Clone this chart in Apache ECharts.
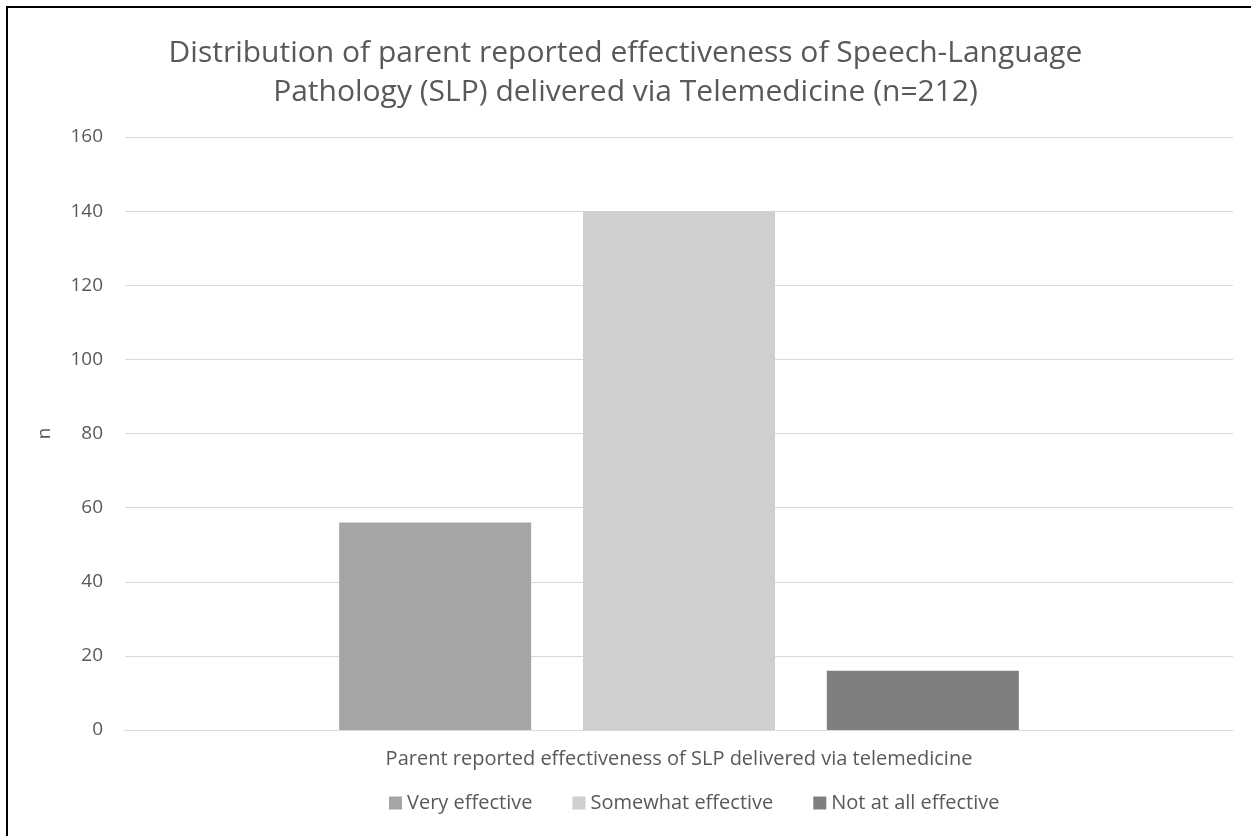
<!DOCTYPE html>
<html><head><meta charset="utf-8">
<script src="https://cdn.jsdelivr.net/npm/echarts@6/dist/echarts.min.js"></script>
<style>html,body{margin:0;padding:0;background:#fff;}#c{width:1251px;height:836px;}</style>
</head><body><div id="c"></div>
<script>
const titleText = 'Distribution of parent reported effectiveness of Speech-Language\nPathology (SLP) delivered via Telemedicine (n=212)';
const categories = [''];
const xAxisTitle = 'Parent reported effectiveness of SLP delivered via telemedicine';
const yAxisTitle = 'n';
const seriesNames = ['Very effective', 'Somewhat effective', 'Not at all effective'];
const veryEffective = [56];
const somewhatEffective = [140];
const notAtAllEffective = [16];
const seriesColors = ['#A5A5A5', '#D0CECE', '#7F7F7F'];
const yTicks = [0, 20, 40, 60, 80, 100, 120, 140, 160];

const font = '"Open Sans", "Noto Sans", sans-serif';
const values = [veryEffective, somewhatEffective, notAtAllEffective];
const chart = echarts.init(document.getElementById('c'), null, {renderer: 'canvas'});
chart.setOption({
  animation: false,
  textStyle: {fontFamily: font},
  graphic: [{type: 'rect', shape: {x: 7, y: 7, width: 1400, height: 1000}, style: {fill: 'none', stroke: '#000', lineWidth: 2}, silent: true}],
  title: {text: titleText, left: 'center', top: 29,
    textStyle: {fontFamily: font, fontSize: 30, fontWeight: 'normal', color: '#595959', lineHeight: 39}},
  legend: {top: 788, left: 384, itemWidth: 13, itemHeight: 13, itemGap: 40,
    icon: 'rect', textStyle: {fontFamily: font, fontSize: 20, color: '#595959'},
    data: seriesNames},
  grid: {left: 125, right: 18, top: 137, bottom: 106},
  xAxis: {type: 'category', data: categories, name: xAxisTitle, nameLocation: 'middle', nameGap: 19,
    nameTextStyle: {fontFamily: font, fontSize: 20, color: '#595959'},
    axisLine: {lineStyle: {color: '#D9D9D9', width: 1}}, axisTick: {show: false}, axisLabel: {show: false}},
  yAxis: {type: 'value', min: yTicks[0], max: yTicks[yTicks.length - 1], interval: 20,
    name: yAxisTitle, nameLocation: 'middle', nameGap: 71,
    nameTextStyle: {fontFamily: font, fontSize: 19, color: '#595959'},
    axisLine: {show: false}, axisTick: {show: false},
    axisLabel: {fontFamily: font, fontSize: 19, color: '#595959', margin: 22},
    splitLine: {lineStyle: {color: '#D9D9D9', width: 1}}},
  series: seriesNames.map((n, i) => ({
    name: n, type: 'bar', data: values[i], barWidth: 192, barGap: '27%',
    itemStyle: {color: seriesColors[i]}
  }))
});
</script></body></html>
